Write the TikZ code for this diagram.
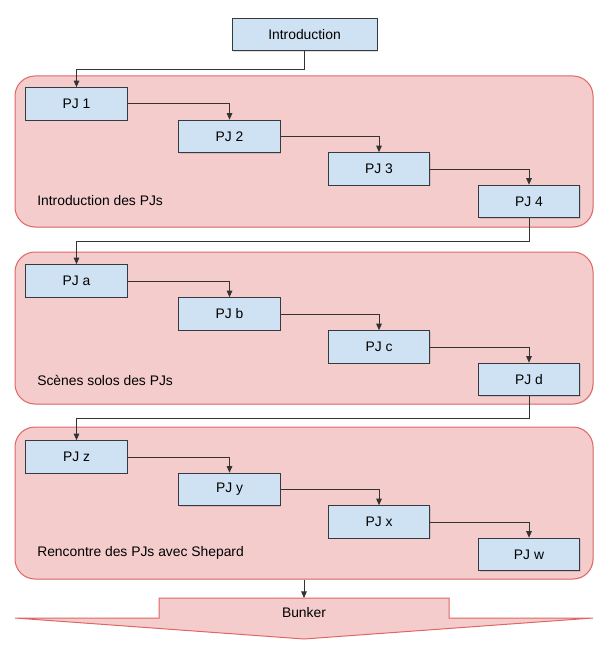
\documentclass[tikz,border=0pt]{standalone}
\usepackage{fontspec}
\setmainfont{Liberation Sans}
\usetikzlibrary{arrows.meta,shadows}
\definecolor{grpfill}{HTML}{F4CCCC}
\definecolor{grpline}{HTML}{E06666}
\definecolor{boxfill}{HTML}{CFE2F3}
\definecolor{boxline}{HTML}{36393D}
\definecolor{lineclr}{HTML}{333333}
\begin{document}
\begin{tikzpicture}[x=0.75pt,y=-0.75pt,
  font=\fontsize{10.4}{12}\selectfont,
  pjbox/.style={draw=boxline, fill=boxfill, line width=0.75pt, minimum width=76pt,
    minimum height=24.4pt, inner sep=0pt,
    drop shadow={shadow xshift=0.9pt,shadow yshift=-0.9pt,opacity=0.25}},
  grp/.style={draw=grpline, fill=grpfill, rounded corners=15pt, line width=0.75pt,
    minimum width=433.5pt, inner sep=0pt,
    drop shadow={shadow xshift=0.6pt,shadow yshift=-0.6pt,opacity=0.15}},
  grplabel/.style={anchor=west, inner sep=0pt},
  conn/.style={draw=lineclr, line width=0.75pt, -{Triangle[length=5pt,width=4.2pt]}}]
\useasboundingbox (0,0) rectangle (610,663);

% groups
\node[grp, minimum height=113.25pt] (g1) at (304,151.5) {};
\node[grp, minimum height=114pt] (g2) at (304,328) {};
\node[grp, minimum height=114pt] (g3) at (304,503) {};

\node[grplabel] (l1) at (37,201) {Introduction des PJs};
\node[grplabel] (l2) at (37,380) {Scènes solos des PJs};
\node[grplabel] (l3) at (37,553) {Rencontre des PJs avec Shepard};

% intro
\node[pjbox, minimum width=108.75pt] (intro) at (304.5,34.5) {Introduction};

% row 1
\node[pjbox] (p1) at (76.5,104) {PJ 1};
\node[pjbox] (p2) at (229.5,136.5) {PJ 2};
\node[pjbox] (p3) at (379,169) {PJ 3};
\node[pjbox] (p4) at (529,201.5) {PJ 4};
% row 2
\node[pjbox] (pa) at (76.5,281) {PJ a};
\node[pjbox] (pb) at (229.5,314) {PJ b};
\node[pjbox] (pc) at (379,347) {PJ c};
\node[pjbox] (pd) at (529,379.5) {PJ d};
% row 3
\node[pjbox] (pz) at (76.5,457) {PJ z};
\node[pjbox] (py) at (229.5,489.5) {PJ y};
\node[pjbox] (px) at (379,522) {PJ x};
\node[pjbox] (pw) at (529,554.5) {PJ w};

% bunker
\draw[draw=grpline, fill=grpfill, line width=0.75pt, line join=miter]
  (159,598) -- (449,598) -- (449,618) -- (593,618) -- (304,639) -- (15,618) -- (159,618) -- cycle;
\node[inner sep=0pt] (bunker) at (304,613) {Bunker};
\coordinate (btop) at (304,598);

% connectors
\draw[conn] (intro.south) -- ++(0,18) -| (p1.north);
\draw[conn] (p1.east) -| (p2.north);
\draw[conn] (p2.east) -| (p3.north);
\draw[conn] (p3.east) -| (p4.north);
\draw[conn] (p4.south) -- ++(0,23) -| (pa.north);
\draw[conn] (pa.east) -| (pb.north);
\draw[conn] (pb.east) -| (pc.north);
\draw[conn] (pc.east) -| (pd.north);
\draw[conn] (pd.south) -- ++(0,22) -| (pz.north);
\draw[conn] (pz.east) -| (py.north);
\draw[conn] (py.east) -| (px.north);
\draw[conn] (px.east) -| (pw.north);
\draw[conn] (g3.south) -- (btop);
\end{tikzpicture}
\end{document}
